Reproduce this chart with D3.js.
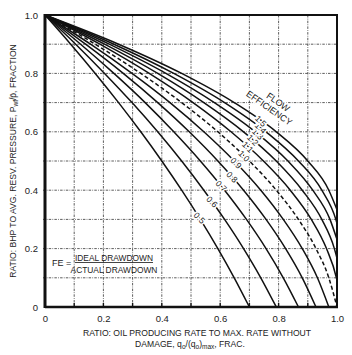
<!DOCTYPE html>
<html>
<head>
<meta charset="utf-8">
<script src="https://cdn.jsdelivr.net/npm/d3@7"></script>
<style>
  body { margin: 0; background: #fff; }
  svg { font-family: "Liberation Sans", Arial, sans-serif; }
</style>
</head>
<body>
<svg></svg>
<script>
// pressure ratio levels (pwf / p-bar) where points were read
let pLevels = [1.0, 0.9, 0.8, 0.7, 0.6, 0.5, 0.4, 0.3, 0.2, 0.1, 0.0];

// flow efficiency of each curve
let feValues = [0.5, 0.6, 0.7, 0.8, 0.9, 1.0, 1.1, 1.2, 1.3, 1.4, 1.5];

// q/qmax at the pLevels above
let q05 = [0, 0.088, 0.172, 0.252, 0.328, 0.400, 0.468, 0.532, 0.592, 0.648, 0.700];
let q06 = [0, 0.105, 0.204, 0.298, 0.386, 0.468, 0.544, 0.615, 0.680, 0.739, 0.792];
let q07 = [0, 0.122, 0.236, 0.343, 0.441, 0.532, 0.615, 0.690, 0.757, 0.816, 0.868];
let q08 = [0, 0.139, 0.268, 0.386, 0.494, 0.592, 0.680, 0.757, 0.824, 0.881, 0.928];
let q09 = [0, 0.156, 0.298, 0.428, 0.544, 0.648, 0.739, 0.816, 0.881, 0.933, 0.972];
let q10 = [0, 0.172, 0.328, 0.468, 0.592, 0.700, 0.792, 0.868, 0.928, 0.972, 1.000];
let q11 = [0, 0.188, 0.357, 0.507, 0.637, 0.748, 0.840, 0.912, 0.964, 0.998];
let q12 = [0, 0.204, 0.386, 0.544, 0.680, 0.792, 0.881, 0.948, 0.991];
let q13 = [0, 0.220, 0.414, 0.580, 0.720, 0.832, 0.917, 0.976];
let q14 = [0, 0.236, 0.441, 0.615, 0.757, 0.868, 0.948, 0.996];
let q15 = [0, 0.252, 0.468, 0.648, 0.792, 0.900, 0.972];

// curves above FE 1.0 run into the right edge (q = 1) at this pressure ratio
let edgeP = [null, null, null, null, null, null, 0.091, 0.167, 0.231, 0.286, 0.333];

// pressure ratio where each FE label sits on its curve
let labelP = [0.305, 0.36, 0.414, 0.445, 0.493, 0.517, 0.548, 0.572, 0.592, 0.613, 0.637];

let qSeries = [q05, q06, q07, q08, q09, q10, q11, q12, q13, q14, q15];

let xTicks = [0, 0.2, 0.4, 0.6, 0.8, 1.0];
let yTicks = [0, 0.2, 0.4, 0.6, 0.8, 1.0];
let gridSteps = d3.range(0, 11).map((i) => i / 10);

let width = 352, height = 355;
let padL = 45, padR = 337, padT = 15, padB = 307;

let svg = d3.select('svg').attr('width', width).attr('height', height);

let xScale = d3.scaleLinear().domain([0, 1]).range([padL, padR]);
let yScale = d3.scaleLinear().domain([0, 1]).range([padB, padT]);

// build point lists for each curve
let curves = feValues.map((fe, i) => {
    let pts = qSeries[i].map((q, j) => [q, pLevels[j]]);
    if (edgeP[i] !== null) pts.push([1.0, edgeP[i]]);
    return { fe: fe, pts: pts };
});

// grid
let grid = svg.append('g').attr('stroke', '#333').attr('stroke-width', 0.8)
    .attr('stroke-dasharray', '2.5,1.2,0.8,1.2');
grid.selectAll('.gx').data(gridSteps.slice(1, 10)).enter().append('line')
    .attr('x1', (d) => xScale(d)).attr('x2', (d) => xScale(d))
    .attr('y1', padT).attr('y2', padB + 1);
grid.selectAll('.gy').data(gridSteps.slice(1, 10)).enter().append('line')
    .attr('x1', padL - 2).attr('x2', padR)
    .attr('y1', (d) => yScale(d)).attr('y2', (d) => yScale(d));

// axes
let xAxis = d3.axisBottom(xScale).tickValues(xTicks).tickSize(0).tickPadding(8)
    .tickFormat((d) => d === 0 ? '0' : d3.format('.1f')(d));
svg.append('g').attr('transform', `translate(0, ${padB})`).call(xAxis)
    .call((g) => g.select('.domain').remove())
    .selectAll('text').attr('font-size', 9.5).attr('fill', '#222')
    .attr('font-family', '"Liberation Sans", Arial, sans-serif');

let yAxis = d3.axisLeft(yScale).tickValues(yTicks).tickSize(0).tickPadding(7)
    .tickFormat((d) => d === 0 ? '0' : d3.format('.1f')(d));
svg.append('g').attr('transform', `translate(${padL}, 0)`).call(yAxis)
    .call((g) => g.select('.domain').remove())
    .selectAll('text').attr('font-size', 9.5).attr('fill', '#222')
    .attr('font-family', '"Liberation Sans", Arial, sans-serif');

// small ticks along bottom
svg.append('g').selectAll('line').data(gridSteps.slice(1, 10)).enter().append('line')
    .attr('x1', (d) => xScale(d)).attr('x2', (d) => xScale(d))
    .attr('y1', padB).attr('y2', padB - 4)
    .attr('stroke', '#111').attr('stroke-width', 1.4);

// curves
let line = d3.line().x((d) => xScale(d[0])).y((d) => yScale(d[1])).curve(d3.curveMonotoneX);
svg.append('g').selectAll('path').data(curves).enter().append('path')
    .attr('d', (d) => line(d.pts))
    .attr('fill', 'none')
    .attr('stroke', '#111')
    .attr('stroke-width', 1.5)
    .attr('stroke-dasharray', (d) => d.fe === 1.0 ? '4,2.5' : null);

// frame
svg.append('rect').attr('x', padL).attr('y', padT)
    .attr('width', padR - padL).attr('height', padB - padT)
    .attr('fill', 'none').attr('stroke', '#111').attr('stroke-width', 2);
svg.append('line').attr('x1', padL).attr('x2', padL).attr('y1', padT - 1).attr('y2', padB + 1)
    .attr('stroke', '#111').attr('stroke-width', 3);
svg.append('line').attr('x1', padL).attr('x2', padR + 1).attr('y1', padB).attr('y2', padB)
    .attr('stroke', '#111').attr('stroke-width', 2.5);

// FE labels on the curves
curves.forEach((c, i) => {
    let interp = d3.scaleLinear().domain(c.pts.map((p) => p[1])).range(c.pts.map((p) => p[0]));
    let lx = xScale(interp(labelP[i]));
    let ly = yScale(labelP[i]);
    svg.append('text')
        .attr('transform', `translate(${lx}, ${ly}) rotate(45)`)
        .attr('text-anchor', 'middle').attr('dy', '0.35em')
        .attr('font-size', 8.5).attr('fill', '#222')
        .attr('stroke', '#fff').attr('stroke-width', 3).attr('paint-order', 'stroke')
        .text(d3.format('.1f')(c.fe));
});

// FLOW EFFICIENCY title
let fl = svg.append('text').attr('transform', `translate(272, 104) rotate(35)`)
    .attr('text-anchor', 'middle').attr('font-size', 9).attr('fill', '#222')
    .attr('stroke', '#fff').attr('stroke-width', 3).attr('paint-order', 'stroke');
fl.append('tspan').attr('x', 4).attr('dy', -2).text('FLOW');
fl.append('tspan').attr('x', 0).attr('dy', 10).text('EFFICIENCY');

// FE definition
svg.append('text').attr('x', 52).attr('y', 266).attr('font-size', 9).attr('fill', '#222').text('FE =');
svg.append('text').attr('x', 114).attr('y', 261).attr('text-anchor', 'middle')
    .attr('font-size', 8.4).attr('fill', '#222').attr('text-decoration', 'underline').text('IDEAL DRAWDOWN');
svg.append('text').attr('x', 114).attr('y', 273).attr('text-anchor', 'middle')
    .attr('font-size', 8.4).attr('fill', '#222').text('ACTUAL DRAWDOWN');

// axis titles
let yt = svg.append('text').attr('transform', `translate(16, ${(padT + padB) / 2}) rotate(-90)`)
    .attr('text-anchor', 'middle').attr('font-size', 8.6).attr('fill', '#222');
yt.append('tspan').text('RATIO: BHP TO AVG. RESV. PRESSURE, P');
yt.append('tspan').attr('font-size', 6.5).attr('dy', 2).text('wf');
yt.append('tspan').attr('dy', -2).text('/p̄, FRACTION');

svg.append('text').attr('x', 197).attr('y', 336).attr('text-anchor', 'middle')
    .attr('font-size', 8.6).attr('fill', '#222').text('RATIO: OIL PRODUCING RATE TO MAX. RATE WITHOUT');
let xt = svg.append('text').attr('x', 190).attr('y', 347).attr('text-anchor', 'middle')
    .attr('font-size', 8.6).attr('fill', '#222');
xt.append('tspan').text('DAMAGE, q');
xt.append('tspan').attr('font-size', 6.5).attr('dy', 2).text('o');
xt.append('tspan').attr('dy', -2).text('/(q');
xt.append('tspan').attr('font-size', 6.5).attr('dy', 2).text('o');
xt.append('tspan').attr('dy', -2).text(')');
xt.append('tspan').attr('font-size', 6.5).attr('dy', 2).text('max');
xt.append('tspan').attr('dy', -2).text(', FRAC.');
</script>
</body>
</html>
